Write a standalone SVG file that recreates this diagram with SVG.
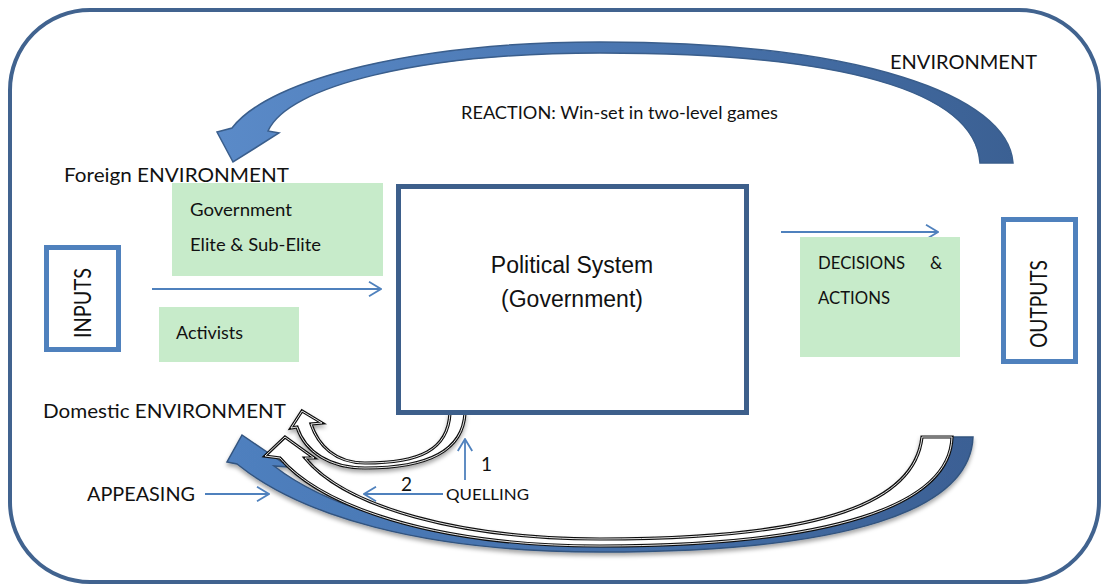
<svg xmlns="http://www.w3.org/2000/svg" width="1102" height="585" viewBox="0 0 1102 585">
  <defs>
    <style>
      .lbl { font-family: Lato, "Liberation Sans", sans-serif; fill: #111; }
      .sys { font-family: "Liberation Sans", Arial, sans-serif; font-size: 23px; fill: #111; text-anchor: middle; }
      .green { fill: #c7ebca; }
      .io { fill: #fff; stroke: #4f81bd; stroke-width: 5; }
      .thin { stroke: #4f81bd; stroke-width: 1.8; fill: none; }
      .hollow { fill: #fff; stroke: #111; stroke-width: 3.2; stroke-linejoin: miter; }
      .hollow-inner { fill: none; stroke: #fff; stroke-width: 0.9; }
    </style>
    <linearGradient id="topGrad" x1="220" y1="0" x2="1015" y2="0" gradientUnits="userSpaceOnUse">
      <stop offset="0" stop-color="#5a8ac8"/>
      <stop offset="0.5" stop-color="#4a76b0"/>
      <stop offset="1" stop-color="#3b6093"/>
    </linearGradient>
    <linearGradient id="botGrad" x1="225" y1="0" x2="975" y2="0" gradientUnits="userSpaceOnUse">
      <stop offset="0" stop-color="#4f80bf"/>
      <stop offset="1" stop-color="#3b6094"/>
    </linearGradient>
    <filter id="soft" x="-5%" y="-10%" width="110%" height="130%">
      <feDropShadow dx="0" dy="3" stdDeviation="2" flood-color="#000" flood-opacity="0.35"/>
    </filter>
    <marker id="chev" viewBox="0 0 14 16" refX="13" refY="8" markerWidth="14" markerHeight="16" markerUnits="userSpaceOnUse" orient="auto">
      <path d="M1,0.8 L13,8 L1,15.2" fill="none" stroke="#4f81bd" stroke-width="1.8"/>
    </marker>
  </defs>

  <rect width="1102" height="585" fill="#fff"/>

  <!-- environment frame -->
  <g id="environment">
    <rect x="10" y="10" width="1089" height="572" rx="80" ry="80" fill="none" stroke="#41638f" stroke-width="4"/>
    <text class="lbl" x="890" y="69" font-size="20" textLength="147" lengthAdjust="spacingAndGlyphs">ENVIRONMENT</text>
  </g>

  <!-- feedback arcs and flow arrows -->
  <g id="connectors">
    <!-- reaction arc over the top -->
    <path d="M1013,163 C1008,95 860,42 600,42 C420,42 270,78 232,128 L217,132 L233,162 L279,133 L268,131 C288,86 420,53 600,53 C840,53 975,90 980,163 Z"
          fill="url(#topGrad)" stroke="#3a5e8c" stroke-width="1.5" stroke-linejoin="miter"/>

    <!-- domestic return arcs -->
    <g filter="url(#soft)">
      <path d="M973,437 C970,510 850,552 600,552 C420,552 300,515 237,464 L227,462 L242,435 L289,467 L274,466 C340,517 460,543 600,543 C840,543 930,500 935,437 Z"
            fill="url(#botGrad)" stroke="#33547f" stroke-width="1.5"/>
      <path class="hollow" d="M952,437 C950,506 830,546 600,546 C430,546 320,505 280,458 L265,456 L285,437 L314,458 L305,458 C345,507 460,539 600,539 C830,539 915,500 922,437 Z"/>
      <path class="hollow-inner" d="M952,437 C950,506 830,546 600,546 C430,546 320,505 280,458 L265,456 L285,437 L314,458 L305,458 C345,507 460,539 600,539 C830,539 915,500 922,437 Z"/>
      <path class="hollow" d="M465,413 C463,450 430,468 365,468 C330,468 305,452 297,427 L291,428 L302,411 L322,423 L311,424 C318,445 335,463 365,463 C420,463 448,450 450,413 Z"/>
      <path class="hollow-inner" d="M465,413 C463,450 430,468 365,468 C330,468 305,452 297,427 L291,428 L302,411 L322,423 L311,424 C318,445 335,463 365,463 C420,463 448,450 450,413 Z"/>
    </g>

    <!-- straight flow arrows -->
    <line class="thin" x1="152" y1="289" x2="381" y2="289" marker-end="url(#chev)"/>
    <line class="thin" x1="781" y1="232" x2="938" y2="232" marker-end="url(#chev)"/>
    <line class="thin" x1="205" y1="494" x2="269" y2="494" marker-end="url(#chev)"/>
    <line class="thin" x1="443" y1="494" x2="364" y2="494" marker-end="url(#chev)"/>
    <line class="thin" x1="465" y1="480" x2="465" y2="439" marker-end="url(#chev)"/>

    <text class="lbl" x="461" y="119" font-size="17" textLength="317" lengthAdjust="spacingAndGlyphs">REACTION: Win-set in two-level games</text>
    <text class="lbl" x="481" y="471" font-size="19">1</text>
    <text class="lbl" x="401" y="491" font-size="19">2</text>
  </g>

  <!-- inputs -->
  <g id="inputs">
    <rect class="io" x="46.5" y="247.5" width="72" height="102"/>
    <text class="lbl" transform="translate(91,303) rotate(-90)" font-size="23" text-anchor="middle" textLength="70" lengthAdjust="spacingAndGlyphs">INPUTS</text>
  </g>

  <g id="foreign-env">
    <text class="lbl" x="64" y="182" font-size="20" textLength="225" lengthAdjust="spacingAndGlyphs">Foreign ENVIRONMENT</text>
  </g>

  <g id="elite">
    <rect class="green" x="172" y="183" width="211" height="93"/>
    <text class="lbl" x="190" y="216" font-size="17" textLength="102" lengthAdjust="spacingAndGlyphs">Government</text>
    <text class="lbl" x="190" y="251" font-size="17" textLength="131" lengthAdjust="spacingAndGlyphs">Elite &amp; Sub-Elite</text>
  </g>

  <g id="activists">
    <rect class="green" x="159" y="307" width="140" height="55"/>
    <text class="lbl" x="176" y="339" font-size="17" textLength="67" lengthAdjust="spacingAndGlyphs">Activists</text>
  </g>

  <!-- political system -->
  <g id="political-system">
    <rect x="398.5" y="186.5" width="348" height="226" fill="#fff" stroke="#3d5f8b" stroke-width="5"/>
    <text class="sys" x="572" y="273">Political System</text>
    <text class="sys" x="572" y="307">(Government)</text>
  </g>

  <g id="decisions">
    <rect class="green" x="800" y="237" width="160" height="120"/>
    <text class="lbl" x="818" y="269" font-size="17" textLength="87" lengthAdjust="spacingAndGlyphs">DECISIONS</text>
    <text class="lbl" x="930" y="269" font-size="17">&amp;</text>
    <text class="lbl" x="818" y="304" font-size="17" textLength="72" lengthAdjust="spacingAndGlyphs">ACTIONS</text>
  </g>

  <!-- outputs -->
  <g id="outputs">
    <rect class="io" x="1003.5" y="219.5" width="72" height="142"/>
    <text class="lbl" transform="translate(1047,304) rotate(-90)" font-size="23" text-anchor="middle" textLength="88" lengthAdjust="spacingAndGlyphs">OUTPUTS</text>
  </g>

  <g id="domestic-env">
    <text class="lbl" x="43" y="418" font-size="20" textLength="243" lengthAdjust="spacingAndGlyphs">Domestic ENVIRONMENT</text>
  </g>

  <g id="appeasing">
    <text class="lbl" x="87" y="501" font-size="19" textLength="108" lengthAdjust="spacingAndGlyphs">APPEASING</text>
  </g>

  <g id="quelling">
    <text class="lbl" x="446" y="500" font-size="16" textLength="83" lengthAdjust="spacingAndGlyphs">QUELLING</text>
  </g>
</svg>
